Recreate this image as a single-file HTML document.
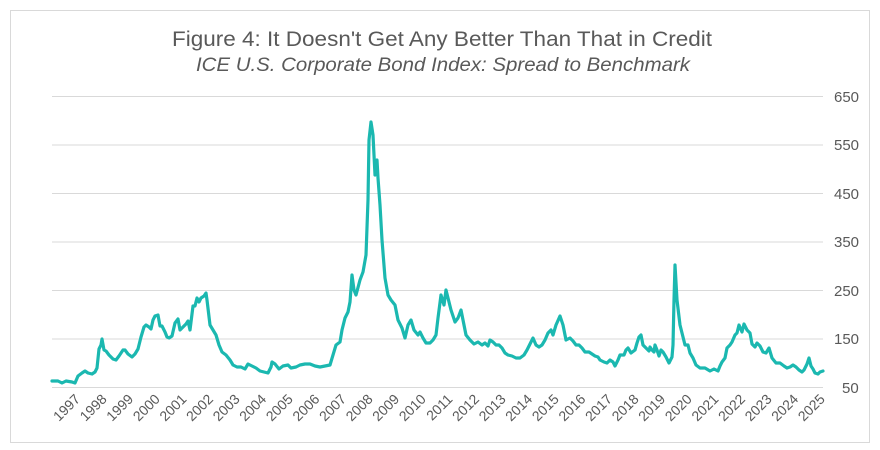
<!DOCTYPE html>
<html><head><meta charset="utf-8"><style>
html,body{margin:0;padding:0;background:#fff;}
svg{display:block;font-family:"Liberation Sans",sans-serif;}
</style></head><body>
<svg width="880" height="450" viewBox="0 0 880 450" xmlns="http://www.w3.org/2000/svg">
<rect x="10.5" y="10.5" width="859" height="432" fill="#fff" stroke="#d9d9d9" stroke-width="1"/>
<text x="442" y="46" text-anchor="middle" font-size="21" fill="#595959" textLength="540" lengthAdjust="spacingAndGlyphs">Figure 4: It Doesn't Get Any Better Than That in Credit</text>
<text x="443" y="71" text-anchor="middle" font-size="19" font-style="italic" fill="#595959" textLength="494" lengthAdjust="spacingAndGlyphs">ICE U.S. Corporate Bond Index: Spread to Benchmark</text>
<g stroke="#d9d9d9" stroke-width="1">
<line x1="52" x2="823" y1="96.5" y2="96.5"/>
<line x1="52" x2="823" y1="145" y2="145"/>
<line x1="52" x2="823" y1="193.5" y2="193.5"/>
<line x1="52" x2="823" y1="242" y2="242"/>
<line x1="52" x2="823" y1="290.5" y2="290.5"/>
<line x1="52" x2="823" y1="339" y2="339"/>
<line x1="52" x2="823" y1="387.5" y2="387.5"/>
</g>
<g font-size="15" fill="#595959">
<text x="834" y="102">650</text>
<text x="834" y="150">550</text>
<text x="834" y="199">450</text>
<text x="834" y="247">350</text>
<text x="834" y="296">250</text>
<text x="834" y="344">150</text>
<text x="842" y="393">50</text>
</g>
<g font-size="14" fill="#595959" text-anchor="end">
<text transform="translate(81,400) rotate(-45)">1997</text>
<text transform="translate(107.6,400) rotate(-45)">1998</text>
<text transform="translate(134.2,400) rotate(-45)">1999</text>
<text transform="translate(160.8,400) rotate(-45)">2000</text>
<text transform="translate(187.4,400) rotate(-45)">2001</text>
<text transform="translate(214,400) rotate(-45)">2002</text>
<text transform="translate(240.6,400) rotate(-45)">2003</text>
<text transform="translate(267.2,400) rotate(-45)">2004</text>
<text transform="translate(293.8,400) rotate(-45)">2005</text>
<text transform="translate(320.4,400) rotate(-45)">2006</text>
<text transform="translate(347,400) rotate(-45)">2007</text>
<text transform="translate(373.6,400) rotate(-45)">2008</text>
<text transform="translate(400.2,400) rotate(-45)">2009</text>
<text transform="translate(426.8,400) rotate(-45)">2010</text>
<text transform="translate(453.4,400) rotate(-45)">2011</text>
<text transform="translate(480,400) rotate(-45)">2012</text>
<text transform="translate(506.6,400) rotate(-45)">2013</text>
<text transform="translate(533.2,400) rotate(-45)">2014</text>
<text transform="translate(559.8,400) rotate(-45)">2015</text>
<text transform="translate(586.4,400) rotate(-45)">2016</text>
<text transform="translate(613,400) rotate(-45)">2017</text>
<text transform="translate(639.6,400) rotate(-45)">2018</text>
<text transform="translate(666.2,400) rotate(-45)">2019</text>
<text transform="translate(692.8,400) rotate(-45)">2020</text>
<text transform="translate(719.4,400) rotate(-45)">2021</text>
<text transform="translate(746,400) rotate(-45)">2022</text>
<text transform="translate(772.6,400) rotate(-45)">2023</text>
<text transform="translate(799.2,400) rotate(-45)">2024</text>
<text transform="translate(825.8,400) rotate(-45)">2025</text>
</g>
<polyline fill="none" stroke="#1bb8b0" stroke-width="3.2" stroke-linejoin="round" stroke-linecap="round" points="52,381 58,381 62,383 66,381 72,382 75,383 78,376 82,373 85,371 88,373 92,374 95,372 97,368 99,349 101,345 102,339 104,350 106,351 109,355 113,359 116,360 119,356 123,350 125,350 128,354 132,357 135,354 138,349 141,337 144,327 146,325 149,327 151,329 153,320 155,316 158,315 160,326 162,326 165,332 167,337 169,338 172,336 175,323 178,319 180,330 183,327 186,324 188,321 190,330 193,306 195,306 197,298 199,302 201,298 204,296 206,293 207,300 210,325 213,330 216,335 219,345 222,352 226,355 230,360 233,365 237,367 241,367 245,369 248,364 252,366 256,368 260,371 264,372 268,373 271,367 272,362 275,364 279,369 283,366 288,365 291,368 296,367 300,365 305,364 310,364 315,366 320,367 325,366 330,365 333,355 336,345 340,342 342,330 345,318 348,312 350,302 352,275 354,290 356,295 360,280 363,272 366,255 368,200 369,140 371,122 373,135 375,175 377,160 378,178 380,205 382,240 385,278 388,295 391,300 395,305 398,320 402,328 405,338 408,325 411,320 414,330 418,335 420,332 423,338 426,343 430,343 433,340 436,335 438,318 441,295 444,305 446,290 448,298 451,310 455,322 458,318 461,310 463,320 466,335 470,340 474,344 478,342 482,345 485,343 488,346 490,340 493,342 496,345 499,345 502,348 505,353 508,355 512,356 516,358 520,358 524,355 527,350 530,344 533,338 536,345 539,347 542,345 545,340 548,333 551,330 553,335 556,325 560,316 563,325 566,340 570,338 573,341 576,345 579,345 582,348 585,352 589,352 592,354 595,356 598,357 600,360 604,362 607,363 610,360 613,362 615,366 618,360 620,355 624,355 626,350 628,348 631,353 635,350 637,343 639,337 641,335 643,345 646,348 649,351 650,347 652,350 654,352 655,345 657,350 659,356 661,350 663,352 666,357 669,363 672,357 673,345 674,300 675,265 677,300 680,325 683,337 685,345 688,345 690,353 693,358 696,365 700,368 705,368 710,371 714,369 718,371 720,366 722,362 725,358 727,348 730,345 732,342 735,335 737,333 739,325 742,332 744,324 747,330 750,333 752,344 755,347 757,343 760,346 763,352 766,353 769,348 772,358 776,363 780,363 784,366 787,368 790,367 793,365 796,367 799,370 802,372 804,370 807,364 809,358 811,366 813,369 815,373 818,374 820,372 823,371"/>
</svg>
</body></html>
